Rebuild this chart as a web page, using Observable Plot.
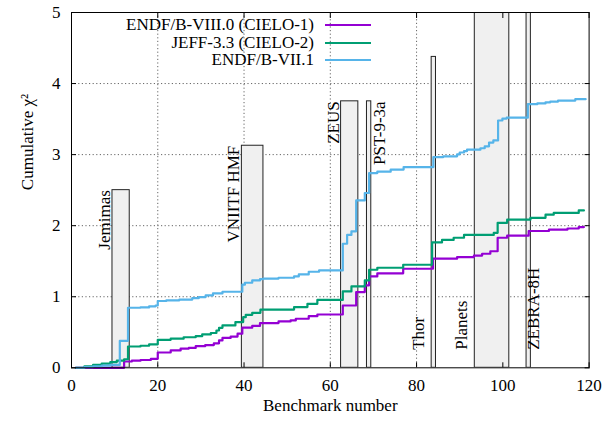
<!DOCTYPE html>
<html><head><meta charset="utf-8">
<script src="https://cdn.jsdelivr.net/npm/d3@7"></script>
<script src="https://cdn.jsdelivr.net/npm/@observablehq/plot@0.6"></script>
<style>
body{margin:0;background:#fff}
#wrap{position:relative;width:612px;height:423px;font-family:"Liberation Serif","Times New Roman",serif}
#wrap svg text{font-family:"Liberation Serif","Times New Roman",serif}
.lg-row{position:absolute;left:0;height:18px;line-height:18px;font-size:17px;color:#000}
.lg-text{position:absolute;right:0;white-space:nowrap}
</style></head><body><div id="wrap"></div>
<script>
// ---- data ----
const seriesNames = ["ENDF/B-VIII.0 (CIELO-1)", "JEFF-3.3 (CIELO-2)", "ENDF/B-VII.1"];
const seriesColors = ["#9400d3", "#009e73", "#56b4e9"];

// ENDF/B-VIII.0 (step breakpoints: benchmark number, cumulative chi2)
const viii0X = [1, 12.2, 14, 16, 18.4, 20, 23, 25.3, 27.2, 28.8, 31, 33, 34.2, 35, 36.9, 38.5, 39.6, 41.9, 43.7, 48, 50.8, 52, 55, 57, 62.9, 66, 68, 69, 70.9, 76.9, 83.8, 89.4, 93.3, 95.2, 97.1, 98.8, 101, 106, 110.7, 115, 117.6, 118.8];
const viii0Y = [0, 0.089, 0.10, 0.11, 0.127, 0.215, 0.244, 0.27, 0.28, 0.305, 0.32, 0.345, 0.385, 0.42, 0.44, 0.48, 0.565, 0.59, 0.63, 0.652, 0.666, 0.69, 0.727, 0.75, 0.877, 1.065, 1.16, 1.286, 1.33, 1.394, 1.535, 1.558, 1.58, 1.605, 1.64, 1.83, 1.86, 1.925, 1.945, 1.96, 1.98, 1.98];

// JEFF-3.3
const jeffX = [1, 3, 5, 7, 9, 10.5, 12.2, 13.1, 16, 18, 20, 23, 26, 28.8, 30.3, 32.3, 33.6, 34.2, 35, 38, 39.8, 40.4, 41.9, 43.8, 51.6, 54.7, 57, 62.9, 64.9, 68, 69, 70.9, 76.9, 83.6, 85.9, 88.6, 91, 97.9, 98.8, 101, 106.4, 109.9, 111.8, 117.6, 118.8];
const jeffY = [0, 0.02, 0.04, 0.06, 0.08, 0.10, 0.12, 0.30, 0.31, 0.33, 0.394, 0.41, 0.43, 0.445, 0.469, 0.49, 0.525, 0.563, 0.596, 0.643, 0.713, 0.746, 0.774, 0.82, 0.854, 0.9, 0.955, 1.075, 1.145, 1.23, 1.38, 1.408, 1.45, 1.765, 1.80, 1.83, 1.87, 1.90, 2.04, 2.085, 2.11, 2.155, 2.18, 2.215, 2.215];

// ENDF/B-VII.1
const vii1X = [1, 3, 5, 7, 9, 11.2, 13.1, 16, 18, 19.5, 20, 22, 25, 28, 29.5, 31.1, 32.8, 35, 39.6, 40.2, 41.9, 43.7, 44.5, 48, 51.6, 52.7, 55, 57.4, 62.9, 63.9, 64.9, 66, 68, 69, 70.9, 74, 77, 83.9, 86.2, 89.4, 90, 91, 91.7, 94.8, 95.8, 96.8, 97.8, 98.9, 99.9, 100.9, 105.8, 108, 109.9, 111, 112.8, 116.8, 119.2];
const vii1Y = [0, 0.01, 0.02, 0.03, 0.04, 0.38, 0.845, 0.85, 0.865, 0.877, 0.94, 0.95, 0.96, 0.98, 0.995, 1.018, 1.046, 1.07, 1.17, 1.197, 1.23, 1.248, 1.255, 1.267, 1.286, 1.314, 1.352, 1.37, 1.746, 1.87, 1.92, 2.356, 2.46, 2.74, 2.76, 2.79, 2.825, 2.966, 2.976, 3.004, 3.03, 3.05, 3.07, 3.09, 3.117, 3.17, 3.20, 3.48, 3.507, 3.52, 3.71, 3.72, 3.736, 3.746, 3.76, 3.78, 3.78];

// benchmark groups (shaded boxes)
const groupNames = ["Jemimas", "VNIITF HMF", "ZEUS", "PST-9-3a", "Thor", "Planets", "ZEBRA-8H"];
const groupStart = [9.5, 39.5, 62.5, 68.5, 83.5, 93.5, 105.5];
const groupEnd = [13.5, 44.5, 66.5, 69.5, 84.5, 101.5, 106.5];
const groupHeight = [2.5, 3.125, 3.75, 3.75, 4.375, 5.5, 5.5];
const groupLabelAtTop = [true, true, true, true, false, false, false];
const groupLabelSide = ["left", "left", "left", "right", "left", "left", "right"];

const xTicks = [0, 20, 40, 60, 80, 100, 120];
const yTicks = [0, 1, 2, 3, 4, 5];
const xTitle = "Benchmark number";
const yTitle = "Cumulative χ²";

// ---- build tables ----
const seriesX = [viii0X, jeffX, vii1X];
const seriesY = [viii0Y, jeffY, vii1Y];
const rows = seriesNames.flatMap((name, i) => seriesX[i].map((x, j) => ({series: name, x, y: seriesY[i][j]})));
const groups = groupNames.map((name, i) => ({
  name, x1: groupStart[i], x2: groupEnd[i], h: groupHeight[i],
  top: groupLabelAtTop[i], side: groupLabelSide[i],
  edge: groupLabelSide[i] === "left" ? groupStart[i] : groupEnd[i]
}));
const sel = (top, side) => groups.filter(g => g.top === top && g.side === side);

const font = "Liberation Serif, Times New Roman, serif";
const fmt = d3.format("d");
const blank = () => "";
const chart = Plot.plot({
  width: 612, height: 423,
  marginLeft: 71, marginRight: 23.4, marginTop: 12, marginBottom: 55.7,
  style: {fontFamily: font, fontSize: "17px", background: "white", color: "black", overflow: "visible"},
  x: {domain: [0, 120]},
  y: {domain: [0, 5]},
  color: {domain: seriesNames, range: seriesColors},
  marks: [
    Plot.ruleX(xTicks.filter(d => d > 0 && d < 120), {stroke: "#666", strokeDasharray: "1.2,2.4", strokeWidth: 1}),
    Plot.ruleY(yTicks.filter(d => d > 0 && d < 5), {stroke: "#666", strokeDasharray: "1.2,2.4", strokeWidth: 1}),
    Plot.rect(groups, {x1: "x1", x2: "x2", y1: 0, y2: "h", fill: "#f0f0f0", stroke: "#222", strokeWidth: 1, clip: true}),
    Plot.text(sel(true, "left"), {x: "edge", y: "h", text: "name", rotate: -90, textAnchor: "end", dx: -8, fontSize: 17, fontFamily: font}),
    Plot.text(sel(true, "right"), {x: "edge", y: "h", text: "name", rotate: -90, textAnchor: "end", dx: 8, fontSize: 17, fontFamily: font}),
    Plot.text(sel(false, "left"), {x: "edge", frameAnchor: "bottom", dy: -18, text: "name", rotate: -90, textAnchor: "start", dx: -8, fontSize: 17, fontFamily: font}),
    Plot.text(sel(false, "right"), {x: "edge", frameAnchor: "bottom", dy: -18, text: "name", rotate: -90, textAnchor: "start", dx: 8, fontSize: 17, fontFamily: font}),
    Plot.line(rows, {x: "x", y: "y", z: "series", stroke: "series", curve: "step-after", strokeWidth: 2.2}),
    Plot.axisX({ticks: xTicks, tickFormat: fmt, tickSize: -5, tickPadding: 16, label: null, fontSize: 17, fontFamily: font}),
    Plot.axisY({ticks: yTicks, tickFormat: fmt, tickSize: -5, tickPadding: 16, label: null, fontSize: 17, fontFamily: font}),
    Plot.axisX({anchor: "top", ticks: xTicks, tickFormat: blank, tickSize: -5, label: null}),
    Plot.axisY({anchor: "right", ticks: yTicks, tickFormat: blank, tickSize: -5, label: null}),
    Plot.text([xTitle], {frameAnchor: "bottom", dy: 43, fontSize: 17, fontFamily: font}),
    Plot.text([yTitle], {frameAnchor: "left", dx: -44, rotate: -90, fontSize: 17, fontFamily: font}),
    Plot.frame({stroke: "black", strokeWidth: 1})
  ]
});
const wrap = document.getElementById("wrap");
wrap.appendChild(chart);

// legend overlay (top-left inside plot area)
seriesNames.forEach((name, i) => {
  const row = document.createElement("div");
  row.className = "lg-row";
  row.style.top = (16 + i * 17.5) + "px";
  row.style.width = "372px";
  const t = document.createElement("span");
  t.className = "lg-text";
  t.style.right = "58px";
  t.textContent = name;
  row.appendChild(t);
  const s = document.createElementNS("http://www.w3.org/2000/svg", "svg");
  s.setAttribute("width", "46"); s.setAttribute("height", "18");
  s.style.position = "absolute"; s.style.left = "325px"; s.style.top = "0";
  const l = document.createElementNS("http://www.w3.org/2000/svg", "line");
  l.setAttribute("x1", 0); l.setAttribute("x2", 46); l.setAttribute("y1", 9); l.setAttribute("y2", 9);
  l.setAttribute("stroke", seriesColors[i]); l.setAttribute("stroke-width", 2.2);
  s.appendChild(l);
  row.appendChild(s);
  wrap.appendChild(row);
});
</script></body></html>
